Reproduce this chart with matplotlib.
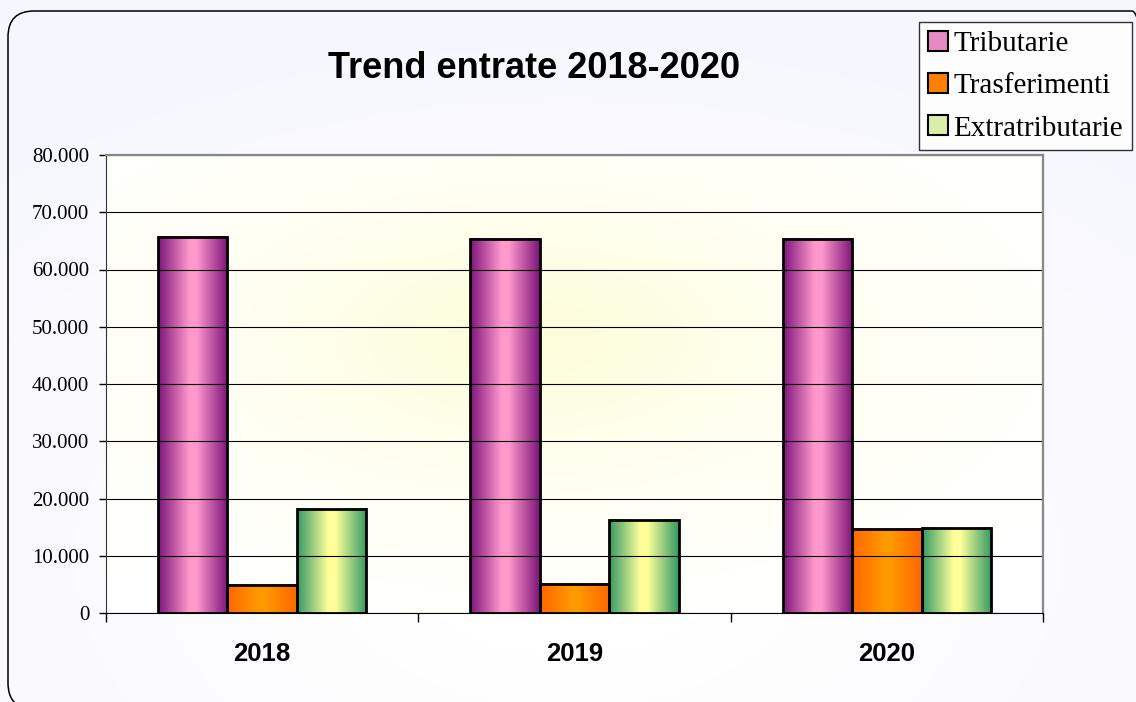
import numpy as np
import matplotlib
matplotlib.use("Agg")
import matplotlib.pyplot as plt
from matplotlib.colors import LinearSegmentedColormap
from matplotlib.patches import FancyBboxPatch, Patch
from matplotlib.transforms import IdentityTransform
from matplotlib.ticker import FuncFormatter, FixedLocator

# data
years = ["2018", "2019", "2020"]
series = ["Tributarie", "Trasferimenti", "Extratributarie"]
tributarie = [65700, 65400, 65400]
trasferimenti = [4900, 5100, 14700]
extratributarie = [18200, 16300, 14900]
values = [tributarie, trasferimenti, extratributarie]

# gradient stops edge -> centre -> edge, per series
grad_colors = [
    ["#7d137a", "#ff99cc", "#ff99cc", "#7d137a"],
    ["#ff6600", "#ff9900", "#ff9900", "#ff6600"],
    ["#339966", "#ffff99", "#ffff99", "#339966"],
]
legend_colors = ["#e58ac6", "#ff8000", "#dcedaa"]

W, H, DPI = 1136, 702, 100
fig = plt.figure(figsize=(W / DPI, H / DPI), dpi=DPI)
fig.patch.set_facecolor("white")

# faint lavender figure background
bg = fig.add_axes([0, 0, 1, 1], zorder=-10)
yy, xx = np.mgrid[0:1:200j, 0:1:300j]
r = np.sqrt(((xx - 0.5) / 0.9) ** 2 + ((yy - 0.2) / 0.9) ** 2)
bg_cmap = LinearSegmentedColormap.from_list("bg", ["#ffffff", "#f6f6fe"])
bg.imshow(r, cmap=bg_cmap, extent=[0, 1, 0, 1], aspect="auto", origin="lower", vmin=0.15, vmax=0.9)
bg.axis("off")

# rounded border
border = FancyBboxPatch((8, -7), 1150, 698, boxstyle="round,pad=0,rounding_size=26",
                        transform=IdentityTransform(), facecolor="none",
                        edgecolor="black", linewidth=1.1, zorder=5)
fig.add_artist(border)

ax = fig.add_axes([106 / W, 1 - 613 / H, (1043 - 106) / W, (613 - 155) / H])

# plot area radial gradient
yy, xx = np.mgrid[0:1:200j, 0:1:300j]
r = np.sqrt(((xx - 0.45) / 0.8) ** 2 + ((yy - 0.6) / 0.8) ** 2)
pa_cmap = LinearSegmentedColormap.from_list("pa", ["#fdfdd8", "#fffff4", "#ffffff"])
ax.imshow(r, cmap=pa_cmap, extent=[0, 1, 0, 1], transform=ax.transAxes,
          aspect="auto", origin="lower", vmin=0, vmax=0.85, zorder=0)

x = np.arange(len(years))
bw = 0.2222
prof = np.linspace(0, 1, 256).reshape(1, -1)
for i, (name, vals) in enumerate(zip(series, values)):
    bars = ax.bar(x + (i - 1) * bw, vals, bw, facecolor="none",
                  edgecolor="black", linewidth=2, zorder=3)
    cmap = LinearSegmentedColormap.from_list(
        name, list(zip([0, 0.45, 0.55, 1], grad_colors[i])))
    for b in bars:
        ax.imshow(prof, cmap=cmap, aspect="auto", zorder=2,
                  extent=[b.get_x(), b.get_x() + b.get_width(), 0, b.get_height()])

ax.set_xlim(-0.5, 2.5)
ax.set_ylim(0, 80000)
ax.set_yticks(np.arange(0, 80001, 10000))
ax.yaxis.set_major_formatter(FuncFormatter(lambda v, p: f"{int(v):,}".replace(",", ".")))
ax.yaxis.grid(True, color="black", linewidth=0.8)
ax.set_axisbelow(False)
for gl in ax.get_ygridlines():
    gl.set_zorder(1)

ax.xaxis.set_major_locator(FixedLocator([-0.5, 0.5, 1.5, 2.5]))
ax.xaxis.set_major_formatter(FuncFormatter(lambda v, p: ""))
ax.xaxis.set_minor_locator(FixedLocator(x))
ax.xaxis.set_minor_formatter(FuncFormatter(lambda v, p: years[int(round(v))]))
ax.tick_params(axis="x", which="major", length=6.5, width=1, direction="out")
ax.tick_params(axis="x", which="minor", length=0, pad=21, labelsize=18.5,
               labelfontfamily="Liberation Sans")
ax.tick_params(axis="y", length=5, width=1, direction="out", pad=7, labelsize=15,
               labelfontfamily="Liberation Serif")
for lab in ax.get_xticklabels(minor=True):
    lab.set_fontweight("bold")

for s in ["top", "right"]:
    ax.spines[s].set_color("#888888")
    ax.spines[s].set_linewidth(1.6)
ax.spines["left"].set_color("#333333")
ax.spines["bottom"].set_color("black")
for s in ax.spines.values():
    s.set_zorder(4)

fig.text(534 / W, 1 - 69 / H, "Trend entrate 2018-2020", ha="center", va="center",
         fontfamily="Liberation Sans", fontweight="bold", fontsize=26)

handles = [Patch(facecolor=c, edgecolor="black", linewidth=1.5) for c in legend_colors]
leg = fig.legend(handles, series, loc="upper left", bbox_to_anchor=(919 / W, 1 - 22 / H),
                 frameon=True, fancybox=False, borderaxespad=0,
                 prop={"family": "Liberation Serif", "size": 21},
                 handlelength=0.68, handleheight=0.68, handletextpad=0.2,
                 labelspacing=0.55, borderpad=0.3)
leg.get_frame().set_edgecolor("black")
leg.get_frame().set_linewidth(1)
leg.get_frame().set_facecolor("white")

fig.savefig("out.png", dpi=DPI)
